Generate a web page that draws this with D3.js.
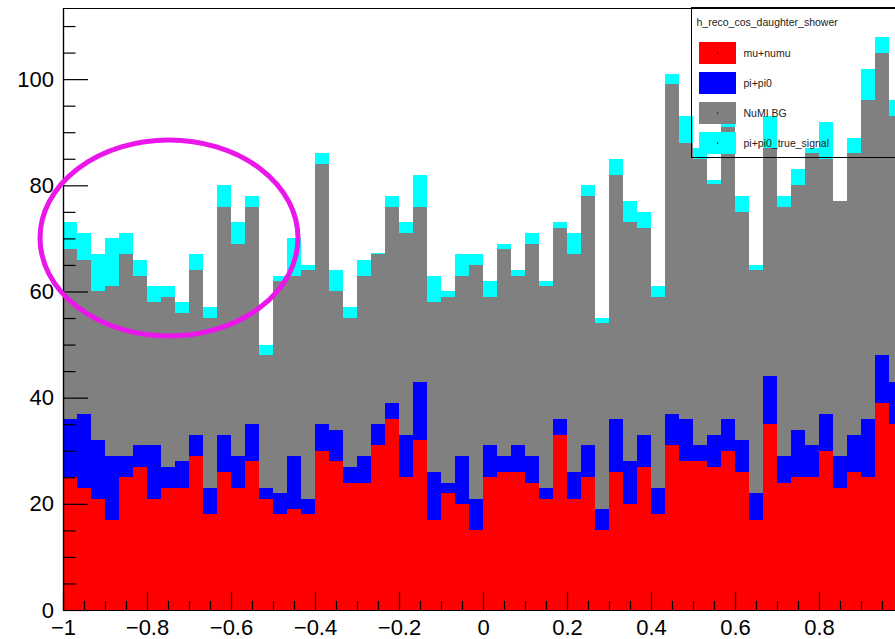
<!DOCTYPE html>
<html>
<head>
<meta charset="utf-8">
<script src="https://cdn.jsdelivr.net/npm/d3@7"></script>
<style>
  body { margin: 0; background: #fff; }
  text { font-family: "Liberation Sans", Arial, Helvetica, sans-serif; }
</style>
</head>
<body>
<div id="mainchart"></div>
<script>
// histogram h_reco_cos_daughter_shower : 60 bins from -1 to 1, stacked
var nBins = 60;
var xLimits = [-1, 1];

// per-layer bin contents (not cumulative)
var muNumu = [25,23,21,17,25,27,21,23,23,29,18,26,23,28,21,18,19,18,30,28,
              24,24,31,36,25,32,17,22,20,15,25,26,26,24,21,33,21,25,15,26,
              20,27,18,31,28,28,27,30,26,17,35,24,25,25,30,23,26,25,39,35];
var piPi0  = [11,14,11,12,4,4,10,4,5,4,5,7,6,7,2,4,10,3,5,6,
              3,5,4,3,8,11,9,2,9,6,6,3,5,5,2,3,5,6,4,10,
              8,6,5,6,8,3,6,6,6,5,9,5,9,6,7,6,7,11,9,8];
var numiBG = [32,29,28,32,38,32,27,32,28,31,32,43,40,41,25,40,34,43,49,26,
              28,34,32,37,38,33,32,35,34,44,28,39,32,40,38,36,41,47,35,46,
              45,39,36,62,52,54,47.3,55,43,42,43,47,46,55,48,48,53,60,57,50];
var trueSignal = [5,5,7,9,4,3,3,2,2,3,2,4,4,2,2,1,7,1,2,4,
                  2,3,0.3,2,2,6,5,1,4,2,3,1,1,2,1,1,4,2,1,3,
                  4,3,2,2,5,2,0.7,1,3,1,6,2,3,1,7,0,3,6,3,3];

var seriesNames = ["mu+numu", "pi+pi0", "NuMI BG", "pi+pi0_true_signal"];
var seriesColors = ["#ff0000", "#0000ff", "#808080", "#00ffff"];
var yTickValues = [0, 20, 40, 60, 80, 100];
var yMinorValues = [5,10,15,25,30,35,45,50,55,65,70,75,85,90,95,105,110];
var xTickValues = [-1, -0.8, -0.6, -0.4, -0.2, 0, 0.2, 0.4, 0.6, 0.8]; // "1" sits past the right edge
var histTitle = "h_reco_cos_daughter_shower";

var fill_plot = function() {
    const width = 895;
    const height = 639;
    const left = 63, right = 903, top = 8, bottom = 610;

    var rows = muNumu.map(function(d, i) {
      return {bin: i, "mu+numu": d, "pi+pi0": piPi0[i], "NuMI BG": numiBG[i], "pi+pi0_true_signal": trueSignal[i]};
    });
    var stacked = d3.stack().keys(seriesNames)(rows);

    var x = d3.scaleLinear().domain(xLimits).range([left, right]);
    var y = d3.scaleLinear().domain([0, 113.4]).range([bottom, top]);
    var binWidth = (xLimits[1] - xLimits[0]) / nBins;

    var chart = d3.select("#mainchart")
      .append("svg")
      .attr("width", width)
      .attr("height", height);

    // stacked bars
    chart.append("g")
      .selectAll("g")
      .data(stacked)
      .enter()
      .append("g")
        .attr("fill", function(d, i) { return seriesColors[i]; })
      .selectAll("rect")
      .data(function(d) { return d; })
      .enter()
      .append("rect")
        .attr("x", function(d) { return x(xLimits[0] + d.data.bin * binWidth); })
        .attr("width", function(d) { return x(xLimits[0] + (d.data.bin + 1) * binWidth) - x(xLimits[0] + d.data.bin * binWidth); })
        .attr("y", function(d) { return y(d[1]); })
        .attr("height", function(d) { return Math.max(0, y(d[0]) - y(d[1])); })
        .attr("shape-rendering", "crispEdges");

    // y axis, ticks inside the frame
    var yAxis = d3.axisLeft(y).tickValues(yTickValues).tickSize(-25).tickSizeOuter(0).tickPadding(9);
    var yMinor = d3.axisLeft(y).tickValues(yMinorValues).tickSize(-12.5).tickSizeOuter(0).tickFormat("");
    chart.append("g").attr("transform", "translate(" + left + ",0)").call(yMinor);
    var gy = chart.append("g").attr("transform", "translate(" + left + ",0)").call(yAxis);
    gy.selectAll("text").style("font-size", "22px").attr("fill", "#000");

    // x axis
    var xMinorValues = d3.range(-1, 1.0001, 0.05).filter(function(v) { return Math.abs(Math.round(v * 5) - v * 5) > 0.01; });
    var xAxis = d3.axisBottom(x).tickValues(xTickValues).tickSize(-18).tickSizeOuter(0).tickPadding(9)
      .tickFormat(d3.format("~g"));
    var xMinor = d3.axisBottom(x).tickValues(xMinorValues).tickSize(-9).tickSizeOuter(0).tickFormat("");
    chart.append("g").attr("transform", "translate(0," + bottom + ")").call(xMinor);
    var gx = chart.append("g").attr("transform", "translate(0," + bottom + ")").call(xAxis);
    gx.selectAll("text").style("font-size", "22px").attr("fill", "#000");

    chart.selectAll(".domain").attr("stroke", "#000").attr("stroke-width", 1.2);
    chart.selectAll(".tick line").attr("stroke", "#000").attr("stroke-width", 1.2);

    // frame top / right
    chart.append("path")
      .attr("d", "M" + left + "," + (top + 0.5) + "H" + right + "V" + bottom)
      .attr("fill", "none")
      .attr("stroke", "#000")
      .attr("stroke-width", 1);

    // legend (transparent box)
    var lg = chart.append("g").attr("transform", "translate(691.5,7.5)");
    lg.append("rect")
      .attr("width", 220).attr("height", 150)
      .attr("fill", "none").attr("stroke", "#000").attr("stroke-width", 1);
    lg.append("text")
      .attr("x", 5).attr("y", 18)
      .style("font-size", "10.5px")
      .attr("fill", "#222")
      .text(histTitle);
    var entry = lg.selectAll("g.entry")
      .data(seriesNames)
      .enter()
      .append("g")
        .attr("class", "entry")
        .attr("transform", function(d, i) { return "translate(0," + (45.5 + i * 30) + ")"; });
    entry.append("rect")
      .attr("x", 7.5).attr("y", -11).attr("width", 37).attr("height", 22)
      .attr("fill", function(d, i) { return seriesColors[i]; });
    entry.append("rect")
      .attr("x", 25.5).attr("y", -0.5).attr("width", 1.2).attr("height", 1.2)
      .attr("fill", "#000");
    entry.append("text")
      .attr("x", 52).attr("y", 3.8)
      .style("font-size", "10.5px")
      .attr("fill", "#222")
      .text(function(d) { return d; });

    // hand-drawn highlight ellipse
    chart.append("ellipse")
      .attr("cx", 169)
      .attr("cy", 238)
      .attr("rx", 129)
      .attr("ry", 98)
      .style("fill", "none")
      .style("stroke", "#ea16ea")
      .style("stroke-width", 5);
};

fill_plot();
</script>
</body>
</html>
